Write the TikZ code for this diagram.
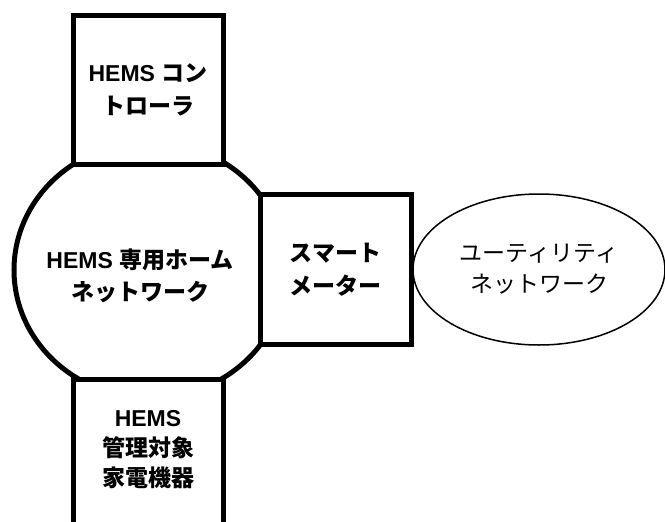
\documentclass[tikz,border=0pt]{standalone}
\usepackage{fontspec}
\setmainfont{Liberation Sans}
\newfontfamily\jp{Noto Sans CJK JP}
\usetikzlibrary{shapes.geometric}

\begin{document}
\begin{tikzpicture}[x=1pt, y=-1pt,
    unit/.style={draw, line width=5pt, fill=white, rectangle, inner sep=0pt,
      minimum width=150pt, align=center, font=\bfseries\fontsize{23}{33}\selectfont},
    net/.style={draw, ellipse, inner sep=0pt, align=center},
    boldtext/.style={align=center, font=\bfseries\fontsize{23}{32}\selectfont}]
    \useasboundingbox (0,0) rectangle (665,522);

    % home network behind the boxes
    \node[net, line width=5pt, minimum width=272pt, minimum height=256pt] (home) at (150,270) {};
    \node[boldtext] (hometext) at (140,276) {HEMS {\jp 専用ホーム}\\{\jp ネットワーク}};

    \node[unit, minimum height=149pt] (ctrl) at (148,89.5) {HEMS {\jp コン}\\{\jp トローラ}};
    \node[unit, minimum width=151pt, minimum height=150pt] (meter) at (335.5,269.5)
      {{\jp スマート}\\{\jp メーター}};
    \node[unit, minimum height=170pt, anchor=north] (dev) at (148,377) {};
    \node[boldtext, font=\bfseries\fontsize{23}{30}\selectfont] (devtext) at (148,450)
      {HEMS\\{\jp 管理対象}\\{\jp 家電機器}};

    \node[net, line width=1.5pt, minimum width=252pt, minimum height=151pt,
      font=\fontsize{23}{31}\selectfont] (utility) at (539,269.5)
      {{\jp ユーティリティ}\\{\jp ネットワーク}};
\end{tikzpicture}
\end{document}
